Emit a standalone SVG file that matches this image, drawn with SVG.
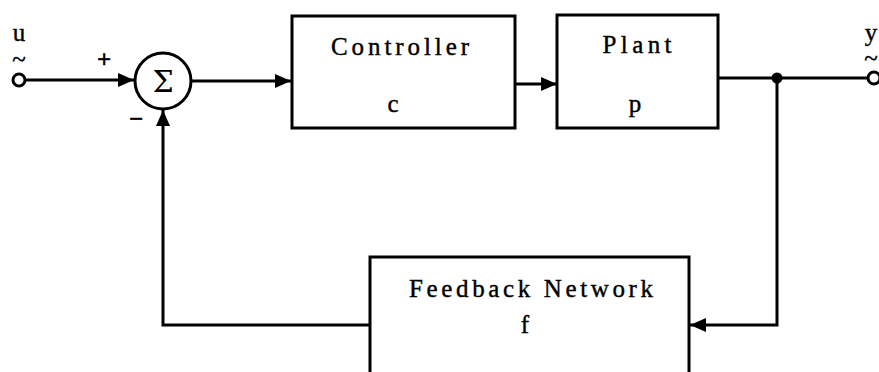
<svg xmlns="http://www.w3.org/2000/svg" width="879" height="372" viewBox="0 0 879 372">
<style>
.box{fill:#fff;stroke:#000;stroke-width:3}
.ln{fill:none;stroke:#000;stroke-width:3}
.t{font-family:"Liberation Serif","DejaVu Serif",serif;font-size:25px;fill:#000;stroke:#000;stroke-width:0.4}
.c{text-anchor:middle}
</style>
<defs>
<marker id="ah" markerWidth="16" markerHeight="14" refX="16" refY="7" orient="auto" markerUnits="userSpaceOnUse">
<path d="M0,0 L16,7 L0,14 Z" fill="#000"/>
</marker>
</defs>
<rect width="879" height="372" fill="#fff"/>
<g id="connectors">
<line class="ln" x1="25" y1="80" x2="134" y2="80" marker-end="url(#ah)"/>
<line class="ln" x1="191" y1="81" x2="291" y2="81" marker-end="url(#ah)"/>
<line class="ln" x1="515" y1="84" x2="557" y2="84" marker-end="url(#ah)"/>
<line class="ln" x1="718" y1="78" x2="868" y2="78"/>
<polyline class="ln" points="777,78 777,325 690,325" marker-end="url(#ah)"/>
<polyline class="ln" points="370,325 163,325 163,110" marker-end="url(#ah)"/>
<circle cx="777" cy="78" r="5.5" fill="#000"/>
</g>
<g id="input">
<circle cx="19" cy="80" r="6" fill="#fff" stroke="#000" stroke-width="3"/>
<text class="t c" x="19" y="41" font-size="22">u</text>
<text class="t c" x="19" y="67" font-size="22">~</text>
</g>
<g id="output">
<circle cx="874" cy="78" r="6" fill="#fff" stroke="#000" stroke-width="3"/>
<text class="t c" x="871" y="41" font-size="22">y</text>
<text class="t c" x="871" y="66" font-size="22">~</text>
</g>
<g id="sum">
<circle cx="163" cy="81" r="28" fill="#fff" stroke="#000" stroke-width="3"/>
<text class="c" x="163" y="92" font-family="DejaVu Serif, serif" font-size="30">Σ</text>
<text class="t c" x="104" y="68" font-size="28" font-weight="bold">+</text>
<text class="t c" x="136" y="127" font-size="28" font-weight="bold">−</text>
</g>
<g id="controller">
<rect class="box" x="292" y="16" width="223" height="112"/>
<text class="t c" x="400" y="55" textLength="138" lengthAdjust="spacing">Controller</text>
<text class="t c" x="393" y="112">c</text>
</g>
<g id="plant">
<rect class="box" x="557" y="15" width="161" height="113"/>
<text class="t c" x="637" y="53" textLength="69" lengthAdjust="spacing">Plant</text>
<text class="t c" x="635" y="112">p</text>
</g>
<g id="feedback">
<rect class="box" x="370" y="257" width="319" height="130"/>
<text class="t c" x="531" y="297" textLength="244" lengthAdjust="spacing">Feedback Network</text>
<text class="t c" x="525" y="333">f</text>
</g>
</svg>
